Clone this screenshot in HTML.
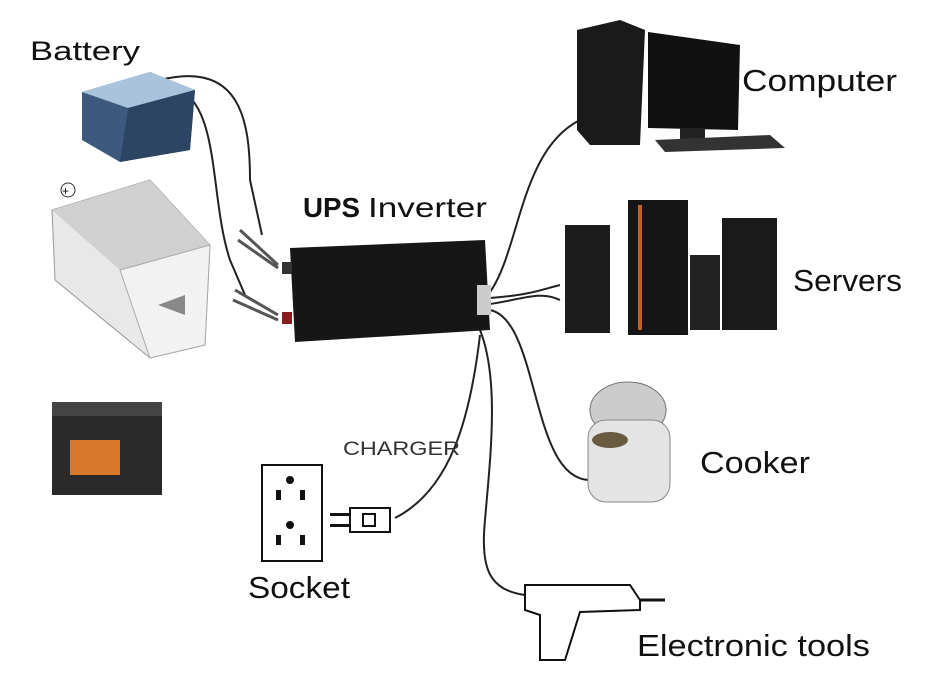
<!DOCTYPE html>
<html><head><meta charset="utf-8"><style>
html,body{margin:0;padding:0;background:#fff;}
svg{display:block;font-family:"Liberation Sans",sans-serif;}
</style></head><body>
<svg width="928" height="674" viewBox="0 0 928 674" xmlns="http://www.w3.org/2000/svg">
<rect width="928" height="674" fill="#fff"/>
<!-- cables -->
<g fill="none" stroke="#222" stroke-width="2">
<path d="M160 80 C240 60 250 120 250 180 L262 235"/>
<path d="M180 90 C220 110 210 200 230 260 L245 295"/>
<path d="M490 292 C520 250 520 150 580 120"/>
<path d="M490 298 C530 295 540 290 560 285"/>
<path d="M490 304 C520 300 540 290 560 300"/>
<path d="M490 310 C540 320 530 480 590 480"/>
<path d="M480 330 C500 380 490 460 485 520 C480 570 490 590 525 595"/>
<path d="M480 335 C470 420 450 490 395 518"/>
</g>
<!-- small blue battery -->
<path d="M82 92 L150 72 L195 90 L190 150 L120 162 L82 140Z" fill="#3d5a7e"/>
<path d="M82 92 L150 72 L195 90 L128 108Z" fill="#a9c3dc"/>
<path d="M128 108 L195 90 L190 150 L120 162Z" fill="#2b4563"/>
<!-- car battery -->
<path d="M52 210 L150 180 L210 245 L205 345 L150 358 L55 280Z" fill="#e8e8e8" stroke="#999"/>
<path d="M52 210 L150 180 L210 245 L120 270Z" fill="#d0d0d0"/>
<path d="M120 270 L210 245 L205 345 L150 358Z" fill="#f2f2f2" stroke="#aaa"/>
<circle cx="68" cy="190" r="7" fill="none" stroke="#333"/>
<text x="62" y="195" font-size="12">+</text>
<path d="M158 305 L185 295 L185 315Z" fill="#888"/>
<!-- dark battery -->
<rect x="52" y="410" width="110" height="85" fill="#2a2a2a"/>
<rect x="52" y="402" width="110" height="14" fill="#444"/>
<rect x="70" y="440" width="50" height="35" fill="#d8782a"/>
<!-- UPS -->
<path d="M290 248 L485 240 L490 330 L295 342Z" fill="#161616"/>
<rect x="282" y="262" width="10" height="12" fill="#333"/>
<rect x="282" y="312" width="10" height="12" fill="#8a1d1d"/>
<rect x="477" y="285" width="14" height="30" fill="#ccc"/>
<path d="M240 230 L278 265 M238 240 L278 268" stroke="#555" stroke-width="3"/>
<path d="M235 290 L278 315 M233 300 L278 320" stroke="#555" stroke-width="3"/>
<!-- computer -->
<path d="M577 30 L620 20 L645 30 L640 145 L590 145 L577 130Z" fill="#1a1a1a"/>
<path d="M648 32 L740 45 L738 130 L648 128Z" fill="#111"/>
<rect x="680" y="128" width="25" height="12" fill="#222"/>
<path d="M655 140 L770 135 L785 148 L665 152Z" fill="#333"/>
<!-- servers -->
<rect x="565" y="225" width="45" height="108" fill="#1c1c1c"/>
<rect x="628" y="200" width="60" height="135" fill="#151515"/>
<rect x="638" y="205" width="4" height="125" fill="#c4602c"/>
<rect x="690" y="255" width="30" height="75" fill="#222"/>
<rect x="722" y="218" width="55" height="112" fill="#1a1a1a"/>
<!-- cooker -->
<ellipse cx="628" cy="410" rx="38" ry="28" fill="#ccc" stroke="#777"/>
<rect x="588" y="420" width="82" height="82" rx="18" fill="#e4e4e4" stroke="#888"/>
<ellipse cx="610" cy="440" rx="18" ry="8" fill="#6a5a40"/>
<!-- socket -->
<rect x="262" y="465" width="60" height="96" fill="#fff" stroke="#111" stroke-width="2"/>
<g fill="#111"><circle cx="290" cy="480" r="4"/><rect x="276" y="490" width="5" height="10"/><rect x="300" y="490" width="5" height="10"/>
<circle cx="290" cy="525" r="4"/><rect x="276" y="535" width="5" height="10"/><rect x="300" y="535" width="5" height="10"/></g>
<rect x="350" y="508" width="40" height="24" fill="#fff" stroke="#111" stroke-width="2"/>
<rect x="330" y="513" width="20" height="3" fill="#111"/><rect x="330" y="524" width="20" height="3" fill="#111"/>
<rect x="363" y="514" width="12" height="12" fill="none" stroke="#111" stroke-width="2"/>
<!-- drill -->
<path d="M525 585 L630 585 L640 600 L640 610 L580 612 L565 660 L540 660 L540 615 L525 610Z" fill="#fff" stroke="#111" stroke-width="2"/>
<path d="M640 600 L665 600" stroke="#111" stroke-width="3"/>
<!-- text -->
<text x="30" y="60" font-size="27" fill="#111" textLength="110" lengthAdjust="spacingAndGlyphs">Battery</text>
<text x="303" y="217" font-size="28" font-weight="bold" fill="#111" textLength="57" lengthAdjust="spacingAndGlyphs">UPS</text>
<text x="368" y="217" font-size="28" fill="#111" textLength="119" lengthAdjust="spacingAndGlyphs">Inverter</text>
<text x="742" y="91" font-size="31" fill="#111" textLength="155" lengthAdjust="spacingAndGlyphs">Computer</text>
<text x="793" y="291" font-size="31" fill="#111" textLength="109" lengthAdjust="spacingAndGlyphs">Servers</text>
<text x="700" y="473" font-size="31" fill="#111" textLength="110" lengthAdjust="spacingAndGlyphs">Cooker</text>
<text x="343" y="455" font-size="19" fill="#333" textLength="117" lengthAdjust="spacingAndGlyphs">CHARGER</text>
<text x="248" y="598" font-size="31" fill="#111" textLength="102" lengthAdjust="spacingAndGlyphs">Socket</text>
<text x="637" y="656" font-size="31" fill="#111" textLength="233" lengthAdjust="spacingAndGlyphs">Electronic tools</text>
</svg>
</body></html>
